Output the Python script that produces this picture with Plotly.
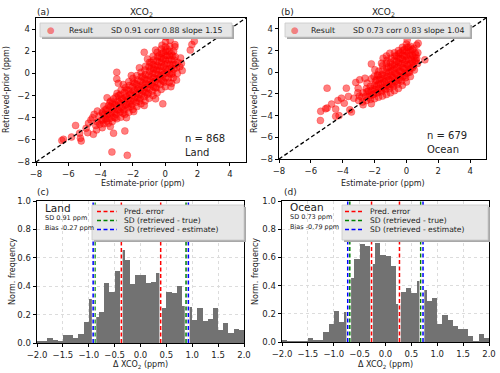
import numpy as np
import plotly.graph_objects as go

# ---- data ----
land_pts = [
    # outliers
    (-6.4, -6.05), (-6.3, -5.95), (-5.8, -5.75), (-5.55, -4.7), (-5.3, -5.4), (-5.25, -5.85), (-5.2, -6.1),
    (-4.9, -4.95), (-4.75, -4.5), (-4.8, -5.35), (-4.45, -5.5), (-4.25, -5.1), (-3.3, -7.1), (-2.35, -7.4),
    (-3.2, -5.4), (-2.5, -5.2), (-1.95, -3.45), (-3.0, 0.1), (-3.0, -0.5), (-2.9, -0.9), (-1.3, 1.9),
    (-0.1, 3.4), (0.05, 3.3), (1.05, 0.25), (0.4, -0.9), (-0.15, -2.75), (1.55, 2.1), (1.65, 2.6), (1.8, 2.9),
    (0.6, 2.4), (-4.6, -4.2), (-4.4, -3.7),
    # edges
    (-3.6, -2.2), (-2.6, -1.0), (-2.1, -0.2), (-1.6, 0.5), (-1.1, 1.3), (-0.6, 2.1), (0.9, 0.6), (0.95, 1.4),
    (1.0, 0.9), (0.7, -0.6), (-0.6, -2.3), (-1.3, -2.9), (-2.4, -4.0), (-3.4, -4.8), (-3.9, -4.9), (-4.3, -4.7),
    (-4.5, -4.0), (-4.2, -3.4), (0.3, 3.0), (0.6, 2.6), (0.35, -1.2),
    # core
    (-4.05, -4.6), (-3.95, -4.25), (-4.1, -3.85), (-3.9, -3.5), (-4.2, -4.4),
    (-3.8, -4.55), (-3.7, -4.1), (-3.78, -3.7), (-3.72, -3.3), (-3.8, -2.95),
    (-3.52, -4.5), (-3.45, -4.1), (-3.55, -3.7), (-3.48, -3.3), (-3.5, -2.9), (-3.42, -2.6),
    (-3.28, -4.35), (-3.22, -3.95), (-3.3, -3.5), (-3.2, -3.1), (-3.27, -2.7), (-3.2, -2.3),
    (-3.0, -4.1), (-3.05, -3.7), (-2.97, -3.3), (-3.02, -2.9), (-2.95, -2.5), (-3.05, -2.1), (-2.98, -1.8),
    (-2.75, -3.95), (-2.8, -3.5), (-2.72, -3.1), (-2.77, -2.7), (-2.7, -2.3), (-2.78, -1.9), (-2.73, -1.5),
    (-2.5, -3.7), (-2.55, -3.3), (-2.47, -2.9), (-2.52, -2.5), (-2.45, -2.1), (-2.53, -1.7), (-2.48, -1.3),
    (-2.25, -3.5), (-2.3, -3.1), (-2.22, -2.7), (-2.27, -2.3), (-2.2, -1.9), (-2.28, -1.5), (-2.23, -1.1), (-2.26, -0.75),
    (-2.0, -3.25), (-2.05, -2.8), (-1.97, -2.4), (-2.02, -2.0), (-1.95, -1.6), (-2.03, -1.2), (-1.98, -0.8), (-2.0, -0.45),
    (-1.75, -3.0), (-1.8, -2.6), (-1.72, -2.2), (-1.77, -1.8), (-1.7, -1.4), (-1.78, -1.0), (-1.73, -0.6), (-1.76, -0.2),
    (-1.5, -2.75), (-1.55, -2.3), (-1.47, -1.9), (-1.52, -1.5), (-1.45, -1.1), (-1.53, -0.7), (-1.48, -0.3), (-1.5, 0.1),
    (-1.25, -2.5), (-1.3, -2.1), (-1.22, -1.7), (-1.27, -1.3), (-1.2, -0.9), (-1.28, -0.5), (-1.23, -0.1), (-1.26, 0.3), (-1.22, 0.65),
    (-1.0, -2.25), (-1.05, -1.8), (-0.97, -1.4), (-1.02, -1.0), (-0.95, -0.6), (-1.03, -0.2), (-0.98, 0.2), (-1.01, 0.6), (-0.97, 1.0),
    (-0.75, -2.0), (-0.8, -1.6), (-0.72, -1.2), (-0.77, -0.8), (-0.7, -0.4), (-0.78, 0.0), (-0.73, 0.4), (-0.76, 0.8), (-0.72, 1.2), (-0.75, 1.55),
    (-0.5, -1.75), (-0.55, -1.3), (-0.47, -0.9), (-0.52, -0.5), (-0.45, -0.1), (-0.53, 0.3), (-0.48, 0.7), (-0.51, 1.1), (-0.47, 1.5), (-0.5, 1.9),
    (-0.25, -1.45), (-0.3, -1.0), (-0.22, -0.6), (-0.27, -0.2), (-0.2, 0.2), (-0.28, 0.6), (-0.23, 1.0), (-0.26, 1.4), (-0.22, 1.8), (-0.25, 2.2), (-0.2, 2.55),
    (0.0, -1.2), (-0.05, -0.8), (0.03, -0.4), (-0.02, 0.0), (0.05, 0.4), (-0.03, 0.8), (0.02, 1.2), (-0.01, 1.6), (0.03, 2.0), (0.0, 2.4), (0.02, 2.85),
    (0.25, -0.8), (0.2, -0.4), (0.28, 0.0), (0.23, 0.4), (0.3, 0.8), (0.22, 1.2), (0.27, 1.6), (0.24, 2.0), (0.28, 2.45),
    (0.5, -0.4), (0.45, 0.0), (0.53, 0.4), (0.48, 0.8), (0.55, 1.2), (0.47, 1.6), (0.52, 2.0),
    (0.75, 0.0), (0.7, 0.5), (0.78, 1.0),
    # dense centre
    (-3.88, -4.2), (-3.88, -3.6), (-3.62, -3.9), (-3.62, -3.2), (-3.38, -3.7), (-3.38, -3.0), (-3.12, -3.5),
    (-3.12, -2.8), (-2.88, -3.3), (-2.88, -2.6), (-2.62, -3.0), (-2.62, -2.3), (-2.38, -2.8), (-2.38, -2.1),
    (-2.12, -2.5), (-2.12, -1.8), (-1.88, -2.2), (-1.88, -1.5), (-1.62, -1.9), (-1.62, -1.2), (-1.38, -1.6),
    (-1.38, -0.9), (-1.12, -1.3), (-1.12, -0.6), (-0.88, -1.0), (-0.88, -0.3), (-0.62, -0.7), (-0.62, 0.0),
    (-0.62, 0.6), (-0.38, -0.4), (-0.38, 0.3), (-0.38, 1.0), (-0.12, -0.1), (-0.12, 0.6), (-0.12, 1.3),
    (-0.12, 1.9), (0.12, 0.2), (0.12, 0.9), (0.12, 1.6), (0.12, 2.2), (0.38, 0.5), (0.38, 1.2), (0.38, 1.8),
    (0.62, 0.8), (0.62, 1.5), (-3.62, -4.3), (-3.12, -4.0), (-2.62, -3.6), (-2.12, -3.0), (-1.62, -2.5),
    (-1.12, -1.9), (-0.62, -1.3), (-0.12, -0.7), (0.38, -0.1), (-3.38, -2.5), (-2.88, -2.0), (-2.38, -1.5),
    (-1.88, -0.9), (-1.38, -0.3), (-0.88, 0.4), (-0.38, 1.6), (-0.88, 1.0),
]

ocean_pts = [
    # outliers
    (-5.4, -4.45), (-5.38, -3.6), (-5.07, -3.37), (-4.98, -3.3), (-4.98, -1.47), (-4.7, -2.94), (-4.44, -3.4),
    (-4.44, -4.07), (-4.23, -4.0), (-4.08, -2.39), (-3.9, -2.85), (-3.77, -1.47), (-3.55, -3.46), (-3.64, -2.23),
    (-3.18, -0.94), (-3.03, -1.47), (-2.93, -0.7), (-2.6, -0.55), (-2.47, -1.0), (-2.2, 0.77), (-1.98, 0.22),
    (-1.82, -0.24), (-1.56, 0.83), (-1.46, 1.3), (-1.25, 1.5), (-1.04, 1.75), (0.05, 2.98), (0.64, 2.5),
    (0.74, 2.67), (1.16, 1.14), (-3.45, -3.67), (-2.72, -3.0), (-2.2, -2.9), (-4.3, -2.6), (-3.3, -2.4),
    # core
    (-3.0, -2.6), (-2.95, -2.2), (-3.05, -1.9),
    (-2.75, -2.75), (-2.8, -2.3), (-2.72, -1.9),
    (-2.5, -2.6), (-2.55, -2.2), (-2.47, -1.8), (-2.52, -1.5),
    (-2.25, -2.5), (-2.3, -2.1), (-2.22, -1.7), (-2.27, -1.3), (-2.2, -0.6),
    (-2.0, -2.45), (-2.05, -2.0), (-1.97, -1.6), (-2.02, -1.2), (-1.95, -0.8), (-2.03, -0.4),
    (-1.75, -2.3), (-1.8, -1.9), (-1.72, -1.5), (-1.77, -1.1), (-1.7, -0.7), (-1.78, -0.3), (-1.73, 0.1),
    (-1.5, -2.2), (-1.55, -1.8), (-1.47, -1.4), (-1.52, -1.0), (-1.45, -0.6), (-1.53, -0.2), (-1.48, 0.2), (-1.5, 0.6),
    (-1.25, -2.05), (-1.3, -1.6), (-1.22, -1.2), (-1.27, -0.8), (-1.2, -0.4), (-1.28, 0.0), (-1.23, 0.4), (-1.26, 0.8), (-1.22, 1.1),
    (-1.0, -1.9), (-1.05, -1.5), (-0.97, -1.1), (-1.02, -0.7), (-0.95, -0.3), (-1.03, 0.1), (-0.98, 0.5), (-1.01, 0.9), (-0.97, 1.3),
    (-0.75, -1.7), (-0.8, -1.3), (-0.72, -0.9), (-0.77, -0.5), (-0.7, -0.1), (-0.78, 0.3), (-0.73, 0.7), (-0.76, 1.1), (-0.72, 1.5), (-0.75, 1.8),
    (-0.5, -1.5), (-0.55, -1.1), (-0.47, -0.7), (-0.52, -0.3), (-0.45, 0.1), (-0.53, 0.5), (-0.48, 0.9), (-0.51, 1.3), (-0.47, 1.7), (-0.5, 2.0),
    (-0.25, -1.2), (-0.3, -0.8), (-0.22, -0.4), (-0.27, 0.0), (-0.2, 0.4), (-0.28, 0.8), (-0.23, 1.2), (-0.26, 1.6), (-0.22, 2.0), (-0.25, 2.3),
    (0.0, -0.9), (-0.05, -0.5), (0.03, -0.1), (-0.02, 0.3), (0.05, 0.7), (-0.03, 1.1), (0.02, 1.5), (-0.01, 1.9), (0.03, 2.3), (0.0, 2.6),
    (0.25, -0.4), (0.2, 0.0), (0.28, 0.4), (0.23, 0.8), (0.3, 1.2), (0.22, 1.6), (0.27, 2.0), (0.24, 2.4),
    (0.5, 0.2), (0.45, 0.6), (0.53, 1.0), (0.48, 1.4), (0.55, 1.8), (0.47, 2.2),
    (0.7, 0.8), (0.65, 1.3), (0.72, 1.8),
    # dense centre
    (-2.38, -2.3), (-2.38, -1.7), (-2.12, -2.1), (-2.12, -1.5), (-1.88, -1.9), (-1.88, -1.3), (-1.88, -0.7),
    (-1.62, -1.7), (-1.62, -1.1), (-1.62, -0.5), (-1.38, -1.5), (-1.38, -0.9), (-1.38, -0.3), (-1.12, -1.3),
    (-1.12, -0.7), (-1.12, -0.1), (-1.12, 0.5), (-0.88, -1.1), (-0.88, -0.5), (-0.88, 0.1), (-0.88, 0.7),
    (-0.62, -0.8), (-0.62, -0.2), (-0.62, 0.4), (-0.62, 1.0), (-0.62, 1.5), (-0.38, -0.5), (-0.38, 0.1),
    (-0.38, 0.7), (-0.38, 1.3), (-0.38, 1.8), (-0.12, -0.3), (-0.12, 0.3), (-0.12, 0.9), (-0.12, 1.5),
    (-0.12, 2.1), (0.12, 0.0), (0.12, 0.6), (0.12, 1.2), (0.12, 1.8), (0.12, 2.3), (0.38, 0.4), (0.38, 1.0),
    (0.38, 1.6), (0.38, 2.1), (0.6, 1.1), (0.6, 1.6),
]

one_to_one = [-8, 5]

# normalised histogram heights, bins of 0.1 from -2 to 2
land_hist = [0.014, 0.014, 0.033, 0.023, 0.012, 0.056, 0.056, 0.033, 0.06, 0.15,
             0.31, 0.18, 0.22, 0.42, 0.36, 0.51, 0.655, 0.585, 0.415, 0.48,
             0.48, 0.42, 0.43, 0.49, 0.245, 0.36, 0.35, 0.40, 0.26, 0.255,
             0.16, 0.245, 0.157, 0.167, 0.25, 0.09, 0.14, 0.07, 0.10, 0.09]
ocean_hist = [0.014, 0.003, 0.003, 0.003, 0.003, 0.026, 0.014, 0.014, 0.073, 0.13,
              0.22, 0.145, 0.215, 0.456, 0.59, 0.695, 0.68, 0.55, 0.70, 0.62,
              0.61, 0.54, 0.27, 0.357, 0.385, 0.345, 0.43, 0.37, 0.29, 0.31,
              0.13, 0.19, 0.156, 0.11, 0.09, 0.09, 0.04, 0.007, 0.06, 0.026]
bin_centres = np.round(np.arange(-1.95, 2.0, 0.1), 2)

land_pred = [-0.37, 0.39]
land_sd_true = [-0.88, 0.88]
land_sd_est = [-0.915, 0.925]
ocean_pred = [-0.27, 0.27]
ocean_sd_true = [-0.69, 0.68]
ocean_sd_est = [-0.73, 0.725]

W, H = 500, 373
def px(x): return x / W
def py(y): return 1 - y / H

FONT = "DejaVu Sans"
DASH = "4px,2.5px"
fig = go.Figure()

# scatter panels
for pts, xa, ya in [(land_pts, "x", "y"), (ocean_pts, "x2", "y2")]:
    fig.add_trace(go.Scatter(x=[p[0] for p in pts], y=[p[1] for p in pts], mode="markers",
                             marker=dict(size=7, color="rgba(255,0,0,0.5)",
                                         line=dict(width=0.7, color="rgba(255,0,0,0.4)")),
                             xaxis=xa, yaxis=ya, showlegend=False, hoverinfo="skip"))
    fig.add_trace(go.Scatter(x=one_to_one, y=one_to_one, mode="lines",
                             line=dict(color="black", width=1.3, dash=DASH),
                             xaxis=xa, yaxis=ya, showlegend=False, hoverinfo="skip"))

# histogram panels
for hist, lines, xa, ya in [(land_hist, (land_pred, land_sd_true, land_sd_est), "x3", "y3"),
                            (ocean_hist, (ocean_pred, ocean_sd_true, ocean_sd_est), "x4", "y4")]:
    fig.add_trace(go.Bar(x=bin_centres, y=hist, width=0.1, marker=dict(color="#727272", line=dict(width=0)),
                         xaxis=xa, yaxis=ya, showlegend=False, hoverinfo="skip"))
    for vals, col in zip(lines, ["#ff0000", "#008000", "#0000ff"]):
        for v in vals:
            fig.add_trace(go.Scatter(x=[v, v], y=[0, 1], mode="lines", line=dict(color="white", width=2.6),
                                     xaxis=xa, yaxis=ya, showlegend=False, hoverinfo="skip"))
            fig.add_trace(go.Scatter(x=[v, v], y=[0, 1], mode="lines",
                                     line=dict(color=col, width=1.5, dash=DASH),
                                     xaxis=xa, yaxis=ya, showlegend=False, hoverinfo="skip"))

ax = dict(showline=True, linecolor="black", linewidth=0.8, mirror=True, ticks="outside",
          ticklen=3.5, tickwidth=0.8, tickcolor="black", zeroline=False, showgrid=False,
          tickfont=dict(family=FONT, size=8.5, color="#222"), automargin=False)
sc_ticks = [-8, -6, -4, -2, 0, 2, 4]
hx_ticks = [-2.0, -1.5, -1.0, -0.5, 0.0, 0.5, 1.0, 1.5, 2.0]
hy_ticks = [0.0, 0.2, 0.4, 0.6, 0.8, 1.0]
grid = dict(showgrid=True, gridcolor="#dcdcdc", gridwidth=0.6, griddash="dot")

fig.update_layout(
    xaxis=dict(ax, domain=[px(36), px(246)], range=[-8, 5], tickvals=sc_ticks, anchor="y"),
    yaxis=dict(ax, domain=[py(162), py(18)], range=[-8, 5], tickvals=sc_ticks, anchor="x"),
    xaxis2=dict(ax, domain=[px(279), px(486)], range=[-8, 5], tickvals=sc_ticks, anchor="y2"),
    yaxis2=dict(ax, domain=[py(159), py(18)], range=[-8, 5], tickvals=sc_ticks, anchor="x2"),
    xaxis3=dict(ax, **grid, domain=[px(37), px(244)], range=[-2, 2], tickvals=hx_ticks, tickformat=".1f", anchor="y3"),
    yaxis3=dict(ax, **grid, domain=[py(343), py(201)], range=[0, 1], tickvals=hy_ticks, tickformat=".1f", anchor="x3"),
    xaxis4=dict(ax, **grid, domain=[px(282), px(489)], range=[-2, 2], tickvals=hx_ticks, tickformat=".1f", anchor="y4"),
    yaxis4=dict(ax, **grid, domain=[py(342), py(201)], range=[0, 1], tickvals=hy_ticks, tickformat=".1f", anchor="x4"),
    width=W, height=H, margin=dict(l=0, r=0, t=0, b=0),
    paper_bgcolor="white", plot_bgcolor="white", bargap=0,
    font=dict(family=FONT, color="#222"),
)

shapes = []
ann = []
def text(x, y, s, size=8, anchor="left", angle=0, color="#222"):
    ann.append(dict(x=px(x), y=py(y), xref="paper", yref="paper", text=s, showarrow=False,
                    xanchor=anchor, yanchor="middle", textangle=angle,
                    font=dict(family=FONT, size=size, color=color)))
def box(x0, y0, x1, y1):
    shapes.append(dict(type="rect", xref="paper", yref="paper", x0=px(x0 + 2), x1=px(x1 + 2),
                       y0=py(y1 + 2), y1=py(y0 + 2), fillcolor="#a8a8a8", line=dict(width=0), layer="above"))
    shapes.append(dict(type="rect", xref="paper", yref="paper", x0=px(x0), x1=px(x1),
                       y0=py(y1), y1=py(y0), fillcolor="#e6e6e6", line=dict(color="#c8c8c8", width=0.8), layer="above"))

# panel labels and titles
text(35, 12, "(a)", 9)
text(141, 12, "XCO<sub>2</sub>", 9, "center")
text(279, 12, "(b)", 9)
text(383, 12, "XCO<sub>2</sub>", 9, "center")
text(35, 192, "(c)", 9)
text(282, 192, "(d)", 9)
text(143, 183, "Estimate-prior (ppm)", 8, "center")
text(383, 183, "Estimate-prior (ppm)", 8, "center")
text(7, 90, "Retrieved-prior (ppm)", 8, "center", -90)
text(255, 90, "Retrieved-prior (ppm)", 8, "center", -90)
text(140, 365, "Δ XCO<sub>2</sub> (ppm)", 8, "center")
text(385, 365, "Δ XCO<sub>2</sub> (ppm)", 8, "center")
text(12, 272, "Norm. frequency", 8, "center", -90)
text(255, 272, "Norm. frequency", 8, "center", -90)

# n / surface labels
text(183, 138, "n = 868", 10)
text(183, 152, "Land", 10)
text(425, 135, "n = 679", 10)
text(425, 149, "Ocean", 10)

# scatter legends
box(40, 23, 232, 37)
text(51, 30, "●", 9, "center", color="rgba(255,0,0,0.45)")
text(67, 30, "Result", 7.8)
text(109, 30, "SD 0.91 corr 0.88 slope 1.15", 7.8)
box(285, 23, 470, 37)
text(295, 30, "●", 9, "center", color="rgba(255,0,0,0.45)")
text(309, 30, "Result", 7.8)
text(351, 30, "SD 0.73 corr 0.83 slope 1.04", 7.8)

# histogram annotations
text(43, 208, "Land", 10.5)
text(43, 218, "SD 0.91 ppm", 6.5)
text(43, 228, "Bias -0.27 ppm", 6.5)
text(288, 207, "Ocean", 10.5)
text(288, 217, "SD 0.73 ppm", 6.5)
text(288, 227, "Bias -0.79 ppm", 6.5)

labels = ["Pred. error", "SD (retrieved - true)", "SD (retrieved - estimate)"]
cols = ["#ff0000", "#008000", "#0000ff"]
for (bx0, bx1, lx0, lx1, tx) in [(92, 244, 97, 117, 122), (342, 488, 345, 364, 368)]:
    box(bx0, 205, bx1, 240)
    for i, (lab, col) in enumerate(zip(labels, cols)):
        yy = 211.5 + 9 * i
        shapes.append(dict(type="line", xref="paper", yref="paper", x0=px(lx0), x1=px(lx1),
                           y0=py(yy), y1=py(yy), line=dict(color=col, width=1.5, dash=DASH), layer="above"))
        text(tx, yy, lab, 7.6)

fig.update_layout(shapes=shapes, annotations=ann)
# drop the browser's default 8px body margin so the figure sits at the window's corner
fig.write_html("out.html", config={"displayModeBar": False},
               post_script="document.body.style.margin='0';")
